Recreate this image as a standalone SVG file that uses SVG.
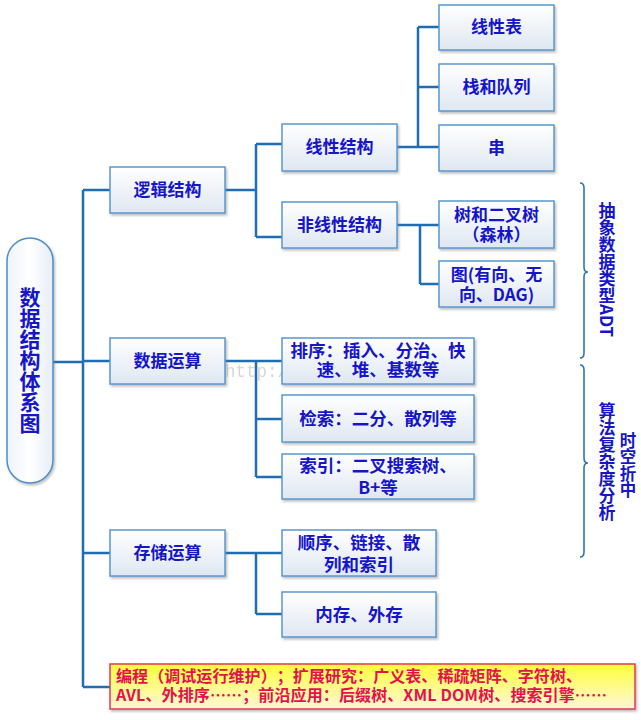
<svg xmlns="http://www.w3.org/2000/svg" width="641" height="720" viewBox="0 0 641 720">
<defs>
<linearGradient id="gBox" x1="0" y1="0" x2="0" y2="1">
<stop offset="0" stop-color="#ffffff"/>
<stop offset="1" stop-color="#dfe7f1"/>
</linearGradient>
<linearGradient id="gRoot" x1="0" y1="0" x2="1" y2="0">
<stop offset="0" stop-color="#eef3f9"/>
<stop offset="0.5" stop-color="#ffffff"/>
<stop offset="1" stop-color="#e6edf6"/>
</linearGradient>
<linearGradient id="gNote" x1="0" y1="0" x2="0" y2="1">
<stop offset="0" stop-color="#ffff3a"/>
<stop offset="1" stop-color="#fff6d8"/>
</linearGradient>
<filter id="sh" x="-10%" y="-10%" width="130%" height="140%">
<feDropShadow dx="1.5" dy="2" stdDeviation="1.2" flood-color="#777" flood-opacity="0.45"/>
</filter>
<style>
text{text-spacing-trim:space-all}
.box{fill:url(#gBox);stroke:#5a98d0;stroke-width:1.5;filter:url(#sh)}
.t{font-family:"Noto Sans CJK SC","Liberation Sans",sans-serif;font-weight:700;font-size:17px;fill:#1616c8;text-anchor:middle}
.v{font-family:"Noto Sans CJK SC","Liberation Sans",sans-serif;font-weight:700;fill:#1616c8;writing-mode:vertical-rl}
.c{fill:none;stroke:#1f6db3;stroke-width:2.5}
.br{fill:none;stroke:#2e75b6;stroke-width:1.6}
.n{font-family:"Noto Sans CJK SC","Liberation Sans",sans-serif;font-weight:700;font-size:16px;fill:#e3124f}
</style>
</defs>
<rect width="641" height="720" fill="#ffffff"/>

<g id="connectors">
<path class="c" d="M53 362H83M83 190V687M83 190H110M83 361H110M83 553H110M83 687H110"/>
<path class="c" d="M225 190H256M256 144V237M256 144H282M256 237H282"/>
<path class="c" d="M397 147H439M418 27V147M418 27H439M418 87H439"/>
<path class="c" d="M397 225H439M420 225V284M420 284H439"/>
<path class="c" d="M225 361H282M256 361V477M256 419H282M256 477H282"/>
<path class="c" d="M225 553H282M256 553V614M256 614H282"/>
</g>

<g id="root">
<rect x="7" y="238" width="46" height="245" rx="23" ry="23" fill="url(#gRoot)" stroke="#4a8fcc" stroke-width="1.5" filter="url(#sh)"/>
<text class="v" x="30" y="287" font-size="21">数据结构体系图</text>
</g>

<g id="n-logic"><rect class="box" x="110" y="167" width="115" height="46"/><text class="t" x="167.5" y="196">逻辑结构</text></g>
<g id="n-op"><rect class="box" x="110" y="338" width="115" height="46"/><text class="t" x="167.5" y="367">数据运算</text></g>
<g id="n-store"><rect class="box" x="110" y="530" width="115" height="46"/><text class="t" x="167.5" y="559">存储运算</text></g>

<g id="n-linear"><rect class="box" x="282" y="124" width="115" height="47"/><text class="t" x="339.5" y="153">线性结构</text></g>
<g id="n-nonlinear"><rect class="box" x="282" y="202" width="115" height="46"/><text class="t" x="339.5" y="231">非线性结构</text></g>

<g id="n-list"><rect class="box" x="439" y="5" width="115" height="45"/><text class="t" x="496.5" y="33">线性表</text></g>
<g id="n-stack"><rect class="box" x="439" y="64" width="115" height="47"/><text class="t" x="496.5" y="93">栈和队列</text></g>
<g id="n-string"><rect class="box" x="439" y="125" width="115" height="46"/><text class="t" x="496.5" y="154">串</text></g>
<g id="n-tree"><rect class="box" x="439" y="201" width="115" height="47"/><text class="t" x="496.5" y="221">树和二叉树</text><text class="t" x="496.5" y="241">（森林）</text></g>
<g id="n-graph"><rect class="box" x="439" y="261" width="115" height="46"/><text class="t" x="496.5" y="281">图(有向、无</text><text class="t" x="496.5" y="301">向、DAG)</text></g>

<g id="watermark"><text x="225" y="377" font-family="Liberation Mono,monospace" font-size="17.5" fill="#9a9a9a" opacity="0.4">http://blog.csdn.net</text></g>

<g id="n-sort"><rect class="box" x="282" y="338" width="192" height="46"/><text class="t" x="378" y="357" style="font-size:17.5px">排序：插入、分治、快</text><text class="t" x="378" y="376" style="font-size:17.5px">速、堆、基数等</text></g>
<g id="n-search"><rect class="box" x="282" y="395" width="192" height="47"/><text class="t" x="378" y="425" style="font-size:17.5px">检索：二分、散列等</text></g>
<g id="n-index"><rect class="box" x="282" y="454" width="192" height="45"/><text class="t" x="378" y="472" style="font-size:17.5px">索引：二叉搜索树、</text><text class="t" x="378" y="494" style="font-size:17.5px">B+等</text></g>

<g id="n-seq"><rect class="box" x="282" y="530" width="154" height="46"/><text class="t" x="359" y="549" style="font-size:17.5px">顺序、链接、散</text><text class="t" x="359" y="571" style="font-size:17.5px">列和索引</text></g>
<g id="n-mem"><rect class="box" x="282" y="592" width="154" height="45"/><text class="t" x="359" y="621" style="font-size:17.5px">内存、外存</text></g>

<g id="n-note">
<rect x="110" y="664" width="525" height="45" fill="url(#gNote)" stroke="#e3375a" stroke-width="1.5" filter="url(#sh)"/>
<text class="n" x="116" y="682" textLength="466" lengthAdjust="spacing">编程（调试运行维护）；扩展研究：广义表、稀疏矩阵、字符树、</text>
<text class="n" x="116" y="701" textLength="491" lengthAdjust="spacing">AVL、外排序……；前沿应用：后缀树、XML DOM树、搜索引擎……</text>
</g>

<g id="brace-adt">
<path class="br" d="M580 183Q584 183 584 188V267Q584 272 588 272Q584 272 584 277V353Q584 358 580 358"/>
<text class="v" x="607" y="202" font-size="17">抽象数据类型ADT</text>
</g>
<g id="brace-complexity">
<path class="br" d="M580 365Q584 365 584 370V458Q584 463 588 463Q584 463 584 468V552Q584 557 580 557"/>
<text class="v" x="607" y="402" font-size="17">算法复杂度分析</text>
<text class="v" x="628" y="432" font-size="16.5">时空折中</text>
</g>
</svg>
